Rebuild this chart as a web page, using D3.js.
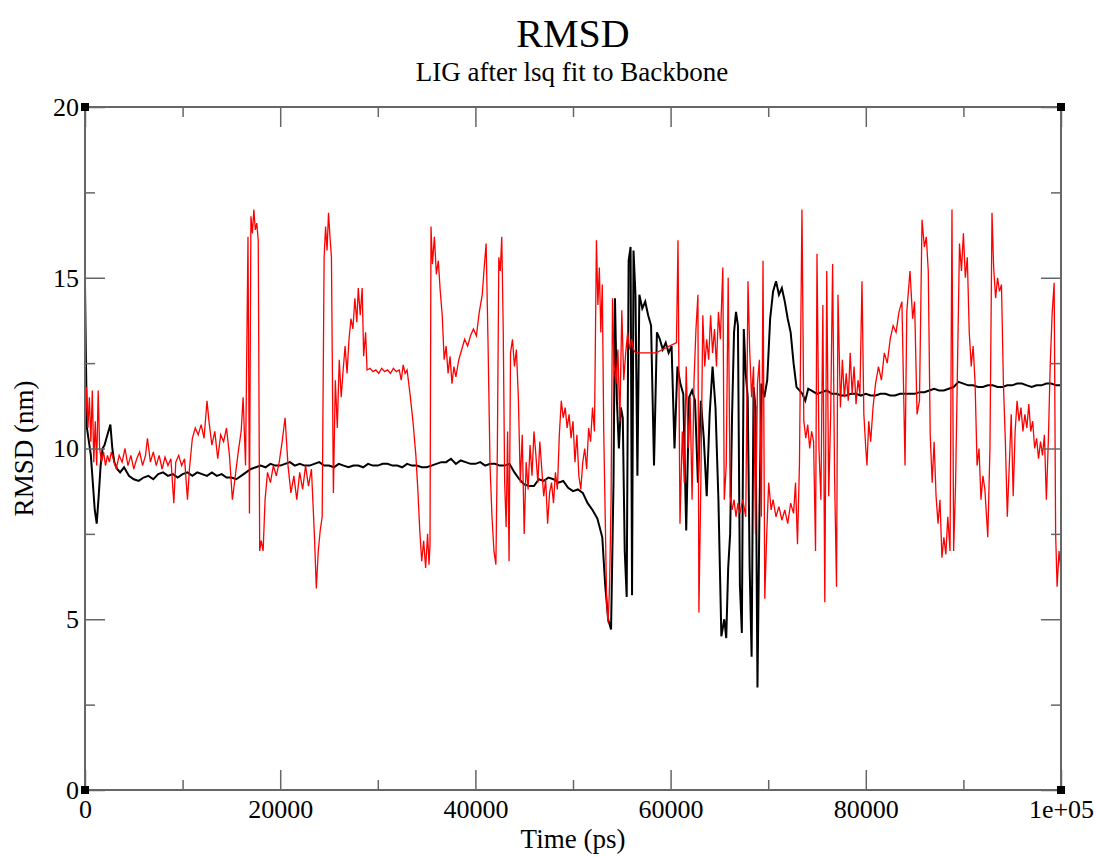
<!DOCTYPE html>
<html>
<head>
<meta charset="utf-8">
<script src="https://cdn.jsdelivr.net/npm/d3@7"></script>
<style>
  body { margin: 0; background: #fff; }
  svg { display: block; }
  text { font-family: "Liberation Serif", "DejaVu Serif", serif; fill: #000; }
</style>
</head>
<body>
<svg id="chart" width="1097" height="857"></svg>
<script>
// time (ps), RMSD (nm)
const blackSeries = [
  [0, 14.8], [100, 12.5], [200, 10.6], [400, 10.2], [600, 9.8], [800, 9.0], [1000, 8.2], [1200, 7.8],
  [1400, 8.6], [1600, 9.5], [1800, 10.0], [2000, 10.1], [2300, 10.4], [2600, 10.7], [2800, 10.0],
  [3000, 9.6], [3300, 9.4], [3600, 9.3], [4000, 9.45], [4500, 9.2], [5000, 9.1], [5500, 9.05],
  [6000, 9.15], [6500, 9.2], [7000, 9.1], [7500, 9.25], [8000, 9.3], [8500, 9.2], [9000, 9.25],
  [9500, 9.15], [10000, 9.25], [10500, 9.3], [11000, 9.2], [11500, 9.3], [12000, 9.25], [12500, 9.2],
  [13000, 9.3], [13500, 9.2], [14000, 9.25], [14500, 9.15], [15000, 9.15], [15500, 9.1], [16000, 9.2],
  [16500, 9.3], [17000, 9.4], [17500, 9.45], [18000, 9.5], [18500, 9.45], [19000, 9.55], [19500, 9.5],
  [20000, 9.5], [20500, 9.55], [21000, 9.6], [21500, 9.5], [22000, 9.55], [22500, 9.5], [23000, 9.5],
  [23500, 9.55], [24000, 9.6], [24500, 9.5], [25000, 9.5], [25500, 9.45], [26000, 9.55], [26500, 9.5],
  [27000, 9.45], [27500, 9.5], [28000, 9.5], [28500, 9.45], [29000, 9.55], [29500, 9.5], [30000, 9.5],
  [30500, 9.55], [31000, 9.55], [31500, 9.5], [32000, 9.5], [32500, 9.45], [33000, 9.55], [33500, 9.5],
  [34000, 9.5], [34500, 9.45], [35000, 9.45], [35500, 9.5], [36000, 9.55], [36500, 9.6], [37000, 9.6],
  [37500, 9.7], [38000, 9.55], [38500, 9.65], [39000, 9.6], [39500, 9.55], [40000, 9.55], [40500, 9.6],
  [41000, 9.5], [41500, 9.55], [42000, 9.55], [42500, 9.5], [43000, 9.5], [43500, 9.55], [44000, 9.3],
  [44500, 9.1], [45000, 8.95], [45500, 8.9], [46000, 8.9], [46500, 9.1], [47000, 9.05], [47500, 9.15],
  [48000, 9.1], [48500, 9.0], [49000, 9.05], [49500, 8.85], [50000, 8.75], [50500, 8.8], [51000, 8.7],
  [51500, 8.4], [52000, 8.2], [52500, 7.95], [53000, 7.4], [53300, 6.0], [53600, 5.0], [53900, 4.7],
  [54150, 9.0], [54300, 14.4], [54500, 11.4], [54700, 10.0], [54900, 11.2], [55100, 10.9], [55300, 7.0],
  [55500, 5.65], [55700, 15.5], [55900, 15.9], [56050, 5.7], [56200, 15.8], [56400, 14.5], [56600, 9.2],
  [56800, 14.5], [57100, 14.1], [57400, 14.3], [57700, 13.9], [58000, 13.6], [58300, 9.5], [58600, 13.4],
  [58900, 13.2], [59200, 12.9], [59500, 13.1], [59800, 12.8], [60100, 13.0], [60400, 10.0], [60700, 12.4],
  [61000, 11.9], [61300, 11.6], [61600, 7.6], [61900, 11.5], [62200, 11.7], [62500, 11.4], [62800, 9.0],
  [63100, 11.4], [63400, 10.3], [63700, 8.6], [64000, 11.0], [64300, 12.4], [64600, 11.2], [64900, 8.5],
  [65200, 4.5], [65500, 5.0], [65700, 4.45], [65900, 6.5], [66100, 7.5], [66300, 11.0], [66500, 13.4],
  [66700, 14.0], [66900, 13.6], [67100, 6.0], [67300, 4.6], [67500, 13.5], [67700, 12.2], [67900, 11.5],
  [68100, 6.5], [68300, 3.9], [68500, 11.8], [68700, 11.2], [68900, 3.0], [69100, 8.0], [69300, 11.9],
  [69600, 11.5], [69900, 12.0], [70200, 13.8], [70500, 14.6], [70800, 14.9], [71100, 14.5], [71400, 14.7],
  [71700, 14.3], [72000, 13.8], [72300, 13.4], [72600, 12.5], [72900, 11.8], [73200, 11.7], [73500, 11.6],
  [73800, 11.4], [74100, 11.75], [74400, 11.7], [75000, 11.6], [75500, 11.65], [76000, 11.7], [76500, 11.6],
  [77000, 11.6], [77500, 11.55], [78000, 11.55], [78500, 11.6], [79000, 11.6], [79500, 11.55], [80000, 11.6],
  [80500, 11.55], [81000, 11.55], [81500, 11.6], [82000, 11.6], [82500, 11.55], [83000, 11.55], [83500, 11.6],
  [84000, 11.6], [84500, 11.6], [85000, 11.6], [85500, 11.65], [86000, 11.65], [86500, 11.7], [87000, 11.75],
  [87500, 11.7], [88000, 11.7], [88500, 11.75], [89000, 11.8], [89500, 11.95], [90000, 11.9], [90500, 11.85],
  [91000, 11.85], [91500, 11.8], [92000, 11.8], [92500, 11.85], [93000, 11.85], [93500, 11.8], [94000, 11.8],
  [94500, 11.85], [95000, 11.85], [95500, 11.9], [96000, 11.9], [96500, 11.85], [97000, 11.8], [97500, 11.85],
  [98000, 11.85], [98500, 11.9], [99000, 11.9], [99500, 11.85], [100000, 11.85]
];

const redSeries = [
  [0, 10.5], [150, 11.8], [300, 10.6], [450, 11.5], [600, 10.2], [750, 11.7], [900, 9.6], [1050, 10.8],
  [1200, 9.5], [1350, 11.7], [1500, 10.0], [1700, 9.6], [1900, 9.9], [2100, 9.5], [2300, 9.8], [2500, 9.6],
  [2700, 9.9], [2900, 9.7], [3200, 9.4], [3500, 9.8], [3800, 9.6], [4100, 10.0], [4400, 9.5], [4700, 9.8],
  [5000, 9.4], [5300, 9.7], [5600, 9.9], [5900, 9.5], [6200, 9.8], [6400, 10.3], [6700, 9.6], [7000, 9.9],
  [7300, 9.5], [7600, 9.8], [7900, 9.4], [8200, 9.75], [8500, 9.5], [8800, 9.7], [9100, 8.4], [9300, 9.6],
  [9600, 9.8], [9900, 9.5], [10200, 9.7], [10500, 8.5], [10700, 9.4], [11000, 10.3], [11300, 10.6],
  [11600, 10.4], [11900, 10.7], [12200, 10.3], [12500, 11.4], [12700, 10.8], [13000, 10.1], [13300, 10.5],
  [13600, 9.7], [13900, 10.4], [14200, 10.2], [14500, 10.6], [14800, 9.8], [15100, 8.5], [15400, 9.2],
  [15700, 9.9], [16000, 10.5], [16200, 11.5], [16450, 9.5], [16700, 16.2], [16850, 8.1], [17000, 16.8],
  [17150, 16.3], [17300, 17.0], [17450, 16.4], [17600, 16.6], [17750, 16.1], [17900, 7.0], [18050, 7.3],
  [18250, 7.0], [18450, 8.5], [18700, 9.3], [19000, 9.0], [19300, 9.5], [19600, 9.2], [19900, 9.6],
  [20200, 10.2], [20500, 10.9], [20800, 9.5], [21100, 8.7], [21400, 9.2], [21700, 8.5], [22000, 9.3],
  [22300, 8.8], [22600, 9.5], [22900, 8.9], [23200, 9.4], [23500, 7.5], [23700, 5.9], [23900, 7.0],
  [24100, 7.6], [24300, 8.0], [24500, 15.6], [24650, 16.5], [24800, 15.8], [24950, 16.9], [25100, 16.2],
  [25250, 15.6], [25450, 8.7], [25650, 12.0], [25850, 10.6], [26050, 12.6], [26250, 11.5], [26450, 12.3],
  [26650, 13.0], [26850, 12.2], [27050, 13.2], [27250, 13.8], [27450, 13.5], [27650, 14.4], [27850, 13.7],
  [28000, 14.7], [28200, 13.9], [28400, 14.7], [28550, 12.7], [28750, 13.4], [28900, 12.3], [29200, 12.35],
  [29500, 12.25], [29800, 12.3], [30100, 12.2], [30400, 12.35], [30700, 12.25], [31000, 12.3], [31300, 12.2],
  [31600, 12.35], [31900, 12.25], [32200, 12.3], [32400, 12.0], [32600, 12.45], [32800, 12.2], [33000, 12.3],
  [33300, 11.6], [33600, 10.8], [33900, 9.8], [34100, 8.8], [34300, 7.6], [34500, 6.7], [34700, 7.3],
  [34900, 6.5], [35100, 7.5], [35250, 6.6], [35350, 7.2], [35450, 16.5], [35600, 15.4], [35800, 16.2],
  [36000, 15.1], [36200, 15.5], [36400, 14.6], [36600, 13.9], [36800, 12.6], [37000, 13.0], [37200, 12.2],
  [37400, 12.7], [37600, 11.9], [37800, 12.4], [38000, 12.1], [38300, 12.6], [38600, 12.9], [38900, 13.2],
  [39200, 13.0], [39500, 13.3], [39800, 13.5], [40100, 13.3], [40400, 14.0], [40700, 14.5], [40900, 15.3],
  [41100, 16.0], [41300, 13.0], [41500, 9.5], [41700, 8.0], [41900, 7.0], [42100, 6.6], [42250, 10.0],
  [42400, 15.6], [42550, 15.2], [42700, 16.2], [42850, 13.5], [43000, 9.0], [43150, 7.7], [43300, 10.5],
  [43450, 6.7], [43600, 12.8], [43800, 13.2], [44000, 12.4], [44200, 12.9], [44400, 11.5], [44600, 9.0],
  [44800, 10.4], [45000, 7.5], [45200, 9.6], [45400, 8.8], [45600, 10.1], [45800, 9.2], [46000, 10.5],
  [46200, 9.8], [46400, 9.0], [46600, 10.2], [46800, 9.4], [47000, 8.6], [47200, 9.1], [47400, 7.8],
  [47600, 8.7], [47800, 9.0], [48000, 8.4], [48200, 9.3], [48400, 8.8], [48600, 10.4], [48800, 11.4],
  [49000, 10.9], [49200, 11.2], [49400, 10.6], [49600, 11.0], [49800, 10.3], [50000, 10.8], [50200, 9.6],
  [50400, 10.4], [50600, 9.2], [50800, 8.8], [51000, 9.6], [51200, 10.0], [51400, 9.4], [51600, 10.6],
  [51800, 10.2], [52000, 11.2], [52200, 10.5], [52400, 16.1], [52550, 14.2], [52700, 15.3], [52850, 13.4],
  [53000, 14.8], [53150, 10.5], [53300, 8.0], [53450, 5.5], [53600, 4.9], [53750, 6.0], [53900, 8.5],
  [54050, 14.4], [54200, 12.5], [54400, 11.9], [54600, 12.9], [54800, 10.8], [55000, 14.05], [55200, 12.0],
  [55400, 12.8], [55600, 13.4], [55800, 12.9], [56000, 13.2], [56200, 12.9], [56400, 12.8], [58500, 12.8],
  [60600, 13.1], [60760, 16.1], [60960, 7.8], [61200, 10.5], [61400, 9.0], [61600, 12.4], [61800, 10.0],
  [62000, 11.5], [62200, 8.5], [62400, 12.0], [62600, 13.5], [62800, 14.5], [62900, 5.2], [63100, 9.0],
  [63300, 13.9], [63500, 12.4], [63700, 13.2], [63900, 12.6], [64100, 13.9], [64300, 12.8], [64500, 13.5],
  [64700, 12.4], [64900, 14.0], [65100, 13.2], [65350, 15.3], [65500, 8.5], [65700, 9.5], [65900, 15.0],
  [66100, 8.6], [66300, 8.2], [66500, 8.5], [66700, 8.0], [66900, 8.4], [67100, 8.1], [67400, 8.5],
  [67700, 8.0], [67930, 14.9], [68100, 12.9], [68300, 11.5], [68500, 12.4], [68700, 7.5], [68900, 11.9],
  [69100, 12.6], [69300, 8.0], [69470, 15.5], [69650, 5.6], [69850, 7.5], [70050, 9.0], [70300, 8.2],
  [70500, 8.5], [70800, 8.0], [71100, 8.3], [71400, 7.9], [71700, 8.2], [72000, 7.8], [72300, 8.4],
  [72600, 8.1], [72800, 9.0], [73000, 7.2], [73200, 9.5], [73460, 17.0], [73650, 10.8], [73850, 10.3],
  [74050, 10.7], [74250, 10.0], [74450, 10.5], [74650, 10.2], [74850, 7.0], [75000, 15.7], [75200, 10.0],
  [75400, 8.5], [75600, 14.2], [75800, 5.5], [76000, 15.2], [76200, 8.6], [76400, 11.0], [76600, 15.4],
  [76800, 9.2], [77000, 5.95], [77150, 14.5], [77400, 11.2], [77600, 12.6], [77800, 11.5], [78000, 12.2],
  [78200, 11.4], [78400, 12.8], [78600, 11.6], [78800, 12.4], [79000, 11.3], [79200, 12.0], [79400, 11.6],
  [79610, 14.9], [79800, 11.0], [80000, 10.0], [80120, 9.5], [80300, 10.8], [80500, 10.2], [80740, 11.2],
  [81000, 11.9], [81300, 12.4], [81600, 12.0], [81900, 12.8], [82200, 12.5], [82500, 13.2], [82800, 13.6],
  [83100, 13.4], [83400, 14.0], [83700, 14.3], [84020, 9.5], [84200, 14.0], [84530, 15.2], [84800, 13.8],
  [85000, 14.3], [85250, 11.0], [85500, 11.4], [85760, 16.7], [86000, 15.9], [86200, 16.2], [86400, 15.2],
  [86600, 10.4], [86800, 9.0], [87000, 10.2], [87200, 8.6], [87400, 7.8], [87600, 8.5], [87800, 6.8],
  [88000, 7.4], [88200, 6.9], [88400, 8.0], [88630, 7.0], [88830, 17.0], [89000, 7.0], [89200, 9.0],
  [89400, 12.5], [89600, 16.0], [89800, 15.2], [90000, 16.3], [90200, 15.0], [90400, 15.6], [90600, 13.4],
  [90800, 12.4], [91000, 13.0], [91200, 11.9], [91400, 9.5], [91600, 10.0], [91800, 8.5], [92000, 9.2],
  [92200, 8.8], [92500, 7.4], [92720, 10.0], [92930, 16.9], [93100, 15.3], [93300, 14.4], [93500, 15.0],
  [93700, 14.6], [93900, 14.8], [94100, 11.9], [94300, 10.2], [94500, 8.0], [94700, 9.5], [94900, 11.0],
  [95100, 8.6], [95300, 10.5], [95500, 11.4], [95700, 10.8], [95900, 11.2], [96100, 10.5], [96300, 11.0],
  [96500, 10.6], [96700, 11.3], [96900, 10.5], [97100, 10.8], [97300, 10.0], [97500, 10.3], [97700, 9.7],
  [97900, 10.2], [98100, 9.8], [98300, 10.4], [98500, 8.5], [98700, 10.2], [98900, 12.5], [99100, 14.0],
  [99300, 14.85], [99450, 7.5], [99600, 5.95], [99800, 7.0], [100000, 6.4]
];

const xMajorTicks = [0, 20000, 40000, 60000, 80000, 100000];
const xTickLabels = ["0", "20000", "40000", "60000", "80000", "1e+05"];
const xMinorTicks = [10000, 30000, 50000, 70000, 90000];
const yMajorTicks = [0, 5, 10, 15, 20];
const yMinorTicks = [2.5, 7.5, 12.5, 17.5];

const svg = d3.select("#chart");
const plotLeft = 85, plotRight = 1061, plotTop = 107, plotBottom = 790;
const frameColor = "#666";

const x = d3.scaleLinear().domain([0, 100000]).range([plotLeft, plotRight]);
const y = d3.scaleLinear().domain([0, 20]).range([plotBottom, plotTop]);

// title
svg.append("text").attr("x", 573).attr("y", 47).attr("text-anchor", "middle")
  .attr("font-size", 40).text("RMSD");
svg.append("text").attr("x", 572).attr("y", 81).attr("text-anchor", "middle")
  .attr("font-size", 27).text("LIG after lsq fit to Backbone");

// data lines
const line = d3.line().x(d => x(d[0])).y(d => y(d[1]));
const plot = svg.append("g");
plot.append("path").datum(blackSeries).attr("d", line)
  .attr("fill", "none").attr("stroke", "#000").attr("stroke-width", 2);
plot.append("path").datum(redSeries).attr("d", line)
  .attr("fill", "none").attr("stroke", "#ff0000").attr("stroke-width", 1.3);

// axes, ticks pointing inwards on all four sides
function styleAxis(g) {
  g.select(".domain").remove();
  g.selectAll(".tick line").attr("stroke", frameColor).attr("stroke-width", 1.5);
  g.selectAll("text").attr("font-size", 26)
    .attr("font-family", "Liberation Serif, DejaVu Serif, serif").attr("fill", "#000");
}

const labelOf = d => xTickLabels[xMajorTicks.indexOf(d)];
svg.append("g").attr("transform", `translate(0,${plotBottom})`)
  .call(d3.axisBottom(x).tickValues(xMajorTicks).tickSize(-20).tickPadding(10).tickFormat(labelOf))
  .call(styleAxis);
svg.append("g").attr("transform", `translate(0,${plotBottom})`)
  .call(d3.axisBottom(x).tickValues(xMinorTicks).tickSize(-10).tickFormat(""))
  .call(styleAxis);
svg.append("g").attr("transform", `translate(0,${plotTop})`)
  .call(d3.axisTop(x).tickValues(xMajorTicks).tickSize(-20).tickFormat(""))
  .call(styleAxis);
svg.append("g").attr("transform", `translate(0,${plotTop})`)
  .call(d3.axisTop(x).tickValues(xMinorTicks).tickSize(-10).tickFormat(""))
  .call(styleAxis);

svg.append("g").attr("transform", `translate(${plotLeft},0)`)
  .call(d3.axisLeft(y).tickValues(yMajorTicks).tickSize(-20).tickPadding(6).tickFormat(d3.format("d")))
  .call(styleAxis);
svg.append("g").attr("transform", `translate(${plotLeft},0)`)
  .call(d3.axisLeft(y).tickValues(yMinorTicks).tickSize(-10).tickFormat(""))
  .call(styleAxis);
svg.append("g").attr("transform", `translate(${plotRight},0)`)
  .call(d3.axisRight(y).tickValues(yMajorTicks).tickSize(-20).tickFormat(""))
  .call(styleAxis);
svg.append("g").attr("transform", `translate(${plotRight},0)`)
  .call(d3.axisRight(y).tickValues(yMinorTicks).tickSize(-10).tickFormat(""))
  .call(styleAxis);

// frame
svg.append("rect").attr("x", plotLeft).attr("y", plotTop)
  .attr("width", plotRight - plotLeft).attr("height", plotBottom - plotTop)
  .attr("fill", "none").attr("stroke", frameColor).attr("stroke-width", 2);

// corner markers
const corners = [[plotLeft, plotTop], [plotRight, plotTop], [plotLeft, plotBottom], [plotRight, plotBottom]];
svg.selectAll("rect.corner").data(corners).join("rect")
  .attr("class", "corner")
  .attr("x", d => d[0] - 4).attr("y", d => d[1] - 4)
  .attr("width", 8).attr("height", 8).attr("fill", "#000");

// axis labels
svg.append("text").attr("x", (plotLeft + plotRight) / 2).attr("y", 848).attr("text-anchor", "middle")
  .attr("font-size", 27).text("Time (ps)");
svg.append("text").attr("transform", `translate(33,${(plotTop + plotBottom) / 2}) rotate(-90)`)
  .attr("text-anchor", "middle").attr("font-size", 27).text("RMSD (nm)");
</script>
</body>
</html>
